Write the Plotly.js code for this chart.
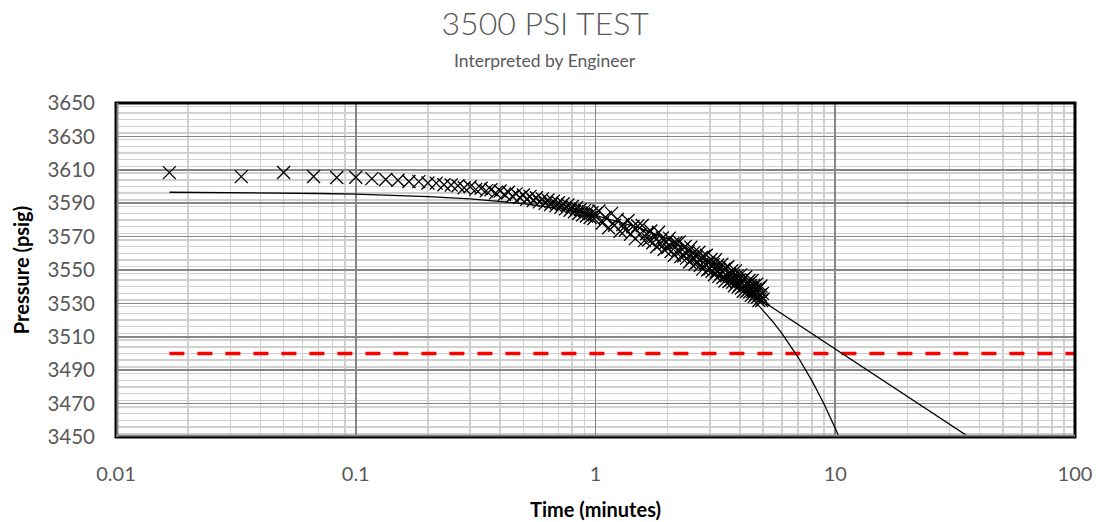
<!DOCTYPE html>
<html>
<head>
<meta charset="utf-8">
<script src="https://cdn.plot.ly/plotly-3.0.1.min.js"></script>
<style>html,body{margin:0;padding:0;background:#fff;}#chart{width:1097px;height:522px;}</style>
</head>
<body>
<div id="chart"></div>
<script>
// Measured test data (time in minutes, pressure in psig)
var timeMin = [
0.0167,0.0333,0.05,0.0667,0.0833,0.1,0.1167,0.1333,0.15,0.1667,
0.1833,0.2,0.2167,0.2333,0.25,0.2667,0.2833,0.3,0.3167,0.3333,
0.35,0.3667,0.3833,0.4,0.4167,0.4333,0.45,0.4667,0.4833,0.5,
0.5167,0.5333,0.55,0.5667,0.5833,0.6,0.6167,0.6333,0.65,0.6667,
0.6833,0.7,0.7167,0.7333,0.75,0.7667,0.7833,0.8,0.8167,0.8333,
0.85,0.8667,0.8833,0.9,0.9167,0.9333,0.95,0.9667,0.9833,1.0,
1.0333,1.0667,1.1,1.1333,1.1667,1.2,1.2333,1.2667,1.3,1.3333,
1.3667,1.4,1.4333,1.4667,1.5,1.5333,1.5667,1.6,1.6333,1.6667,
1.7,1.7333,1.7667,1.8,1.8333,1.8667,1.9,1.9333,1.9667,2.0,
2.0333,2.0667,2.1,2.1333,2.1667,2.2,2.2333,2.2667,2.3,2.3333,
2.3667,2.4,2.4333,2.4667,2.5,2.5333,2.5667,2.6,2.6333,2.6667,
2.7,2.7333,2.7667,2.8,2.8333,2.8667,2.9,2.9333,2.9667,3.0,
3.0333,3.0667,3.1,3.1333,3.1667,3.2,3.2333,3.2667,3.3,3.3333,
3.3667,3.4,3.4333,3.4667,3.5,3.5333,3.5667,3.6,3.6333,3.6667,
3.7,3.7333,3.7667,3.8,3.8333,3.8667,3.9,3.9333,3.9667,4.0,
4.0333,4.0667,4.1,4.1333,4.1667,4.2,4.2333,4.2667,4.3,4.3333,
4.3667,4.4,4.4333,4.4667,4.5,4.5333,4.5667,4.6,4.6333,4.6667,
4.7,4.7333,4.7667,4.8,4.8333,4.8667,4.9,4.9333,4.9667,5.0
];
var pressurePsig = [
3608.3,3605.9,3608.4,3606.0,3605.4,3605.5,3604.7,3604.2,3603.7,3603.0,
3602.9,3602.1,3602.0,3601.0,3600.9,3600.4,3599.3,3599.8,3598.3,3599.0,
3597.4,3598.1,3596.2,3597.3,3595.3,3596.6,3594.2,3595.6,3593.4,3594.9,
3592.4,3594.1,3591.6,3593.3,3590.8,3592.6,3589.9,3591.9,3589.2,3591.2,
3588.4,3590.3,3587.5,3589.7,3586.6,3588.9,3585.8,3588.0,3584.9,3587.3,
3583.8,3586.4,3583.0,3585.7,3582.3,3585.1,3581.4,3584.3,3580.8,3583.6,
3585.3,3578.1,3581.6,3575.3,3583.9,3576.8,3580.2,3573.2,3577.2,3574.0,
3579.6,3571.4,3576.0,3568.8,3576.3,3571.5,3576.6,3567.6,3571.7,3568.0,
3573.4,3566.3,3570.0,3563.9,3572.6,3565.7,3569.2,3562.3,3566.5,3563.4,
3569.1,3561.1,3565.8,3558.8,3566.3,3561.7,3566.8,3558.0,3562.2,3558.5,
3564.1,3557.1,3560.9,3554.8,3563.6,3556.8,3560.4,3553.6,3557.8,3554.8,
3560.6,3552.7,3557.5,3550.5,3558.1,3553.5,3558.8,3550.0,3554.2,3550.7,
3556.3,3549.3,3553.2,3547.2,3556.1,3549.3,3553.0,3546.2,3550.5,3547.6,
3553.4,3545.5,3550.4,3543.4,3551.1,3546.6,3551.9,3543.1,3547.4,3543.9,
3549.6,3542.7,3546.6,3540.6,3549.5,3542.8,3546.5,3539.8,3544.1,3541.2,
3547.1,3539.2,3544.1,3537.3,3545.0,3540.5,3545.8,3537.1,3541.4,3537.9,
3543.7,3536.8,3540.7,3534.8,3543.7,3537.1,3540.8,3534.1,3538.5,3535.6,
3541.5,3533.7,3538.6,3531.7,3539.5,3535.0,3540.4,3531.7,3536.0,3532.6
];

// Interpreted trend line (linear in time)
var trendTime = [0.0167,0.02,0.03,0.05,0.07,0.1,0.15,0.2,0.3,0.4,0.5,0.7,1,1.5,2,2.5,3,3.5,4,4.5,5,5.5,6,7,8,9,10,10.6];
var trendPressure = [3596.56,3596.52,3596.38,3596.09,3595.81,3595.39,3594.68,3593.97,3592.56,3591.14,3589.73,3586.9,3582.65,3575.58,3568.5,3561.43,3554.35,3547.28,3540.2,3533.13,3526.05,3518.98,3511.9,3497.75,3483.6,3469.45,3455.3,3446.81];

// Interpreted extrapolation (straight on log time)
var extrapTime = [4.9, 37];
var extrapPressure = [3532, 3449];

// Test pressure limit
var limitTime = [0.0167, 100];
var limitPressure = [3500, 3500];

// Axis ticks
var xTickVals = [0.01, 0.1, 1, 10, 100];
var xTickText = ['0.01', '0.1', '1', '10', '100'];

var FONT = 'Lato, "Open Sans", sans-serif';

var traces = [
  {x: limitTime, y: limitPressure, mode: 'lines', hoverinfo: 'skip',
   line: {color: '#ff0000', width: 3.5, dash: '15px,13px'}},
  {x: trendTime, y: trendPressure, mode: 'lines',
   line: {color: '#000000', width: 1.3}},
  {x: extrapTime, y: extrapPressure, mode: 'lines',
   line: {color: '#000000', width: 1.3}},
  {x: timeMin, y: pressurePsig, mode: 'markers',
   marker: {symbol: 'x-thin-open', size: 13, color: '#000000', line: {color: '#000000', width: 1.3}}}
];

var px = 1/959, py = 1/334;
var layout = {
  width: 1097, height: 522,
  margin: {l: 116, r: 22, t: 103, b: 85},
  paper_bgcolor: '#ffffff', plot_bgcolor: '#ffffff',
  showlegend: false,
  font: {family: FONT, color: '#595959'},
  title: {text: '3500 PSI TEST', x: 0.497, xref: 'container', xanchor: 'center',
          y: 0.954, yref: 'container', yanchor: 'middle',
          font: {family: FONT, size: 32, color: '#595959', weight: 300}},
  annotations: [
    {text: 'Interpreted by Engineer', xref: 'paper', yref: 'paper', x: (545 - 116) / 959, y: 1.1287,
     xanchor: 'center', yanchor: 'middle', showarrow: false,
     font: {family: FONT, size: 17.5, color: '#595959'}}
  ],
  xaxis: {
    type: 'log', range: [-2, 2],
    tickmode: 'array', tickvals: xTickVals, ticktext: xTickText,
    ticks: '', ticklabelstandoff: 23,
    tickfont: {family: FONT, size: 20, color: '#595959'},
    showgrid: true, gridcolor: '#868686', gridwidth: 1.6,
    minor: {dtick: 'D1', showgrid: true, gridcolor: '#d0d0d0', gridwidth: 1.6, ticks: ''},
    zeroline: false, showline: false,
    title: {text: 'Time (minutes)', standoff: 18,
            font: {family: FONT, size: 20, color: '#000000', weight: 'bold'}}
  },
  yaxis: {
    range: [3450, 3650], tickmode: 'linear', tick0: 3450, dtick: 20,
    ticks: '', ticklabelstandoff: 20,
    tickfont: {family: FONT, size: 20.5, color: '#595959'},
    showgrid: true, gridcolor: '#868686', gridwidth: 1.6,
    minor: {dtick: 4, showgrid: true, gridcolor: '#d0d0d0', gridwidth: 1.4, ticks: ''},
    zeroline: false, showline: false,
    title: {text: 'Pressure (psig)', standoff: 12,
            font: {family: FONT, size: 20, color: '#000000', weight: 'bold'}}
  },
  shapes: [
    {type: 'rect', xref: 'paper', yref: 'paper', x0: 0, x1: 1, y0: 0, y1: 1,
     line: {color: '#000000', width: 3}, layer: 'above'},
    {type: 'line', xref: 'paper', yref: 'paper', x0: 1.5*px, x1: 1.5*px, y0: 0, y1: 1,
     line: {color: '#868686', width: 2}, layer: 'above'},
    {type: 'line', xref: 'paper', yref: 'paper', x0: 0, x1: 1, y0: 1.5*py, y1: 1.5*py,
     line: {color: '#868686', width: 2}, layer: 'above'}
  ]
};

Plotly.newPlot('chart', traces, layout, {displayModeBar: false, staticPlot: true});
</script>
</body>
</html>
